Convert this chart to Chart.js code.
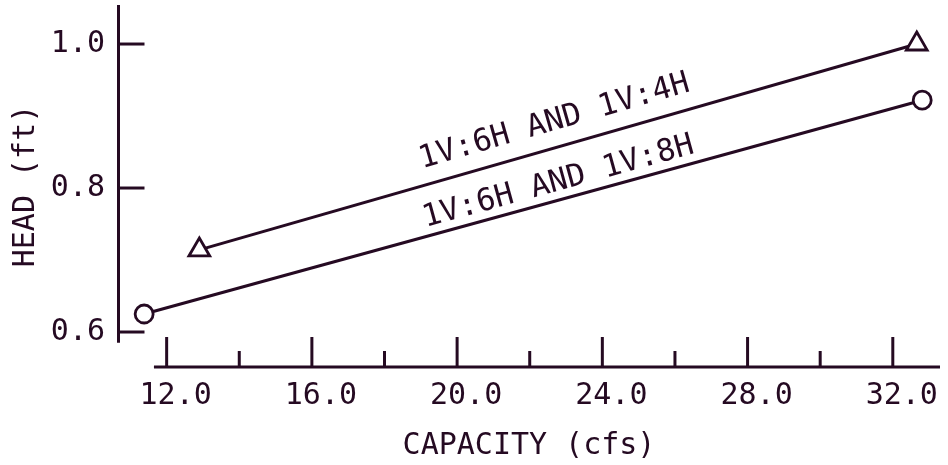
<!DOCTYPE html>
<html>
<head>
<meta charset="utf-8">
<title>Head vs Capacity</title>
<script src="https://cdn.jsdelivr.net/npm/chart.js@4/dist/chart.umd.min.js"></script>
<style>
  html, body { margin: 0; padding: 0; background: #ffffff; }
  canvas { display: block; }
</style>
</head>
<body>
<canvas id="chart" width="948" height="465"></canvas>
<script>
const INK = '#250a22';
const FONT = "'DejaVu Sans Mono', 'Liberation Mono', monospace";

// Side-slope rating lines: capacity (cfs) against head (ft)
const capacity4H = [12.9, 32.66];
const head4H = [0.714, 1.0];
const capacity8H = [11.38, 32.81];
const head8H = [0.625, 0.922];

// Axis ticks
const xMajorTicks = [12, 16, 20, 24, 28, 32];
const xMinorTicks = [14, 18, 22, 26, 30];
const yTicks = [0.6, 0.8, 1.0];

// In-plot line labels and where they sit (data units)
const slopeLabels = ['1V:6H AND 1V:4H', '1V:6H AND 1V:8H'];
const slopeLabelX = [22.68, 22.79];
const slopeLabelY = [0.892, 0.808];

// Where the drawn axis lines stop short of the plot corner
const X_AXIS_START = 11.65;
const Y_AXIS_END = 0.585;

// Axis lines with inward tick marks, drawn off the chart's own scales
const plotterAxes = {
  id: 'plotterAxes',
  beforeDatasetsDraw(chart) {
    const { ctx, chartArea, scales: { x, y } } = chart;
    ctx.save();
    ctx.strokeStyle = INK;
    ctx.lineWidth = 3;
    ctx.lineCap = 'butt';
    const seg = (x1, y1, x2, y2) => { ctx.beginPath(); ctx.moveTo(x1, y1); ctx.lineTo(x2, y2); ctx.stroke(); };

    const left = chartArea.left + 0.5;
    seg(left, chartArea.top, left, y.getPixelForValue(Y_AXIS_END));
    yTicks.forEach(v => { const py = y.getPixelForValue(v); seg(left, py, left + 26, py); });

    const bottom = chartArea.bottom;
    seg(x.getPixelForValue(X_AXIS_START), bottom, chartArea.right, bottom);
    xMajorTicks.forEach(v => { const px = x.getPixelForValue(v); seg(px, bottom, px, bottom - 30); });
    xMinorTicks.forEach(v => { const px = x.getPixelForValue(v); seg(px, bottom, px, bottom - 16); });
    ctx.restore();
  },
  afterDatasetsDraw(chart) {
    const { ctx, scales: { x, y } } = chart;
    const series = [[capacity4H, head4H], [capacity8H, head8H]];
    ctx.save();
    ctx.fillStyle = INK;
    ctx.font = `31px ${FONT}`;
    ctx.textAlign = 'center';
    ctx.textBaseline = 'middle';
    slopeLabels.forEach((text, i) => {
      const [xs, ys] = series[i];
      const dx = x.getPixelForValue(xs[1]) - x.getPixelForValue(xs[0]);
      const dy = y.getPixelForValue(ys[1]) - y.getPixelForValue(ys[0]);
      ctx.save();
      ctx.translate(x.getPixelForValue(slopeLabelX[i]), y.getPixelForValue(slopeLabelY[i]));
      ctx.rotate(Math.atan2(dy, dx));
      ctx.fillText(text, 0, 0);
      ctx.restore();
    });
    ctx.restore();
  }
};

const toPoints = (xs, ys) => xs.map((v, i) => ({ x: v, y: ys[i] }));

new Chart(document.getElementById('chart'), {
  type: 'scatter',
  data: {
    datasets: [
      {
        label: slopeLabels[0],
        data: toPoints(capacity4H, head4H),
        showLine: true,
        clip: false,
        borderColor: INK,
        borderWidth: 3,
        pointStyle: 'triangle',
        pointRadius: 12,
        pointBorderWidth: 2.8,
        pointBorderColor: INK,
        pointBackgroundColor: '#ffffff'
      },
      {
        label: slopeLabels[1],
        data: toPoints(capacity8H, head8H),
        showLine: true,
        clip: false,
        borderColor: INK,
        borderWidth: 3,
        pointStyle: 'circle',
        pointRadius: 9,
        pointBorderWidth: 2.8,
        pointBorderColor: INK,
        pointBackgroundColor: '#ffffff'
      }
    ]
  },
  options: {
    responsive: false,
    animation: false,
    devicePixelRatio: 1,
    layout: { autoPadding: false, padding: { top: 5, right: 8, left: 0, bottom: 0 } },
    plugins: { legend: { display: false }, tooltip: { enabled: false } },
    scales: {
      x: {
        type: 'linear',
        min: 10.66,
        max: 33.30,
        afterFit: s => { s.height = 98; s.paddingLeft = 0; s.paddingRight = 0; },
        afterBuildTicks: s => { s.ticks = xMajorTicks.map(v => ({ value: v })); },
        grid: { display: false },
        border: { display: false },
        ticks: {
          color: INK,
          font: { family: FONT, size: 30 },
          padding: 3,
          labelOffset: 9,
          maxRotation: 0,
          autoSkip: false,
          callback: v => Number(v).toFixed(1)
        },
        title: {
          display: true,
          text: 'CAPACITY (cfs)',
          color: INK,
          font: { family: FONT, size: 30 },
          padding: { top: 0, bottom: 1 }
        }
      },
      y: {
        type: 'linear',
        min: 0.5514,
        max: 1.0542,
        afterFit: s => { s.width = 118; s.paddingTop = 0; s.paddingBottom = 0; },
        afterBuildTicks: s => { s.ticks = yTicks.map(v => ({ value: v })); },
        grid: { display: false },
        border: { display: false },
        ticks: {
          color: INK,
          font: { family: FONT, size: 30 },
          padding: 5,
          autoSkip: false,
          callback: v => Number(v).toFixed(1)
        },
        title: {
          display: true,
          text: 'HEAD (ft)',
          color: INK,
          font: { family: FONT, size: 30 },
          padding: { top: 8, bottom: 0 }
        }
      }
    }
  },
  plugins: [plotterAxes]
});
</script>
</body>
</html>
